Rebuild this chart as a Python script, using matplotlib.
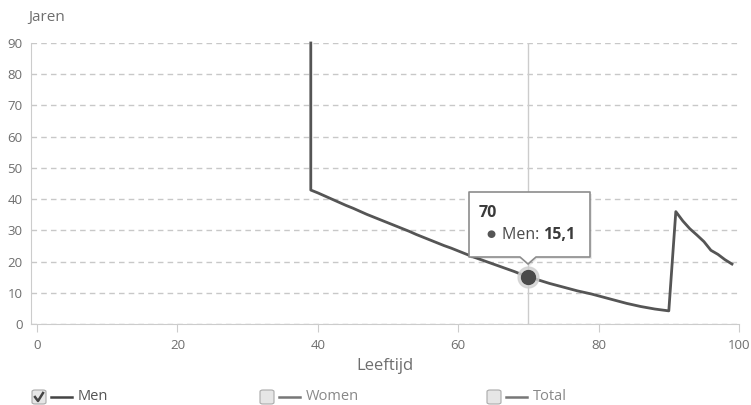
import matplotlib.pyplot as plt
from matplotlib.patches import Polygon, FancyBboxPatch
from matplotlib.lines import Line2D

W, H = 751, 405

# remaining life expectancy, men (Jaren) per age (Leeftijd)
ages = [39, 39, 40, 41, 42, 43, 44, 45, 46, 47, 48, 49, 50, 51, 52, 53, 54,
        55, 56, 57, 58, 59, 60, 61, 62, 63, 64, 65, 66, 67, 68, 69, 70, 71,
        72, 73, 74, 75, 76, 77, 78, 79, 80, 81, 82, 83, 84, 85, 86, 87, 88,
        89, 90, 91, 92, 93, 94, 95, 96, 97, 98, 99]
men = [90.0, 42.9, 42.0, 41.0, 40.0, 39.0, 38.0, 37.1, 36.1, 35.1, 34.2,
       33.3, 32.4, 31.5, 30.6, 29.7, 28.7, 27.8, 26.9, 26.0, 25.1, 24.3, 23.4,
       22.5, 21.6, 20.8, 20.0, 19.2, 18.4, 17.6, 16.8, 15.9, 15.1, 14.4, 13.7,
       13.0, 12.4, 11.8, 11.2, 10.6, 10.1, 9.6, 9.0, 8.4, 7.8, 7.2, 6.6, 6.1,
       5.6, 5.2, 4.8, 4.5, 4.2, 36.0, 33.0, 30.5, 28.5, 26.4, 23.6, 22.3,
       20.6, 19.2]
xticks = [0, 20, 40, 60, 80, 100]
yticks = [0, 10, 20, 30, 40, 50, 60, 70, 80, 90]
series_names = ["Men", "Women", "Total"]
hover_age = 70

LINE = "#555555"
GRID = "#c8c8c8"
TXT = "#6e6e6e"


def fx(x):
    return x / W


def fy(y):
    return 1 - y / H


fig = plt.figure(figsize=(W / 100, H / 100), dpi=100)
plt.rcParams["font.family"] = ["Open Sans", "DejaVu Sans"]

ax = fig.add_axes([fx(31), fy(324), fx(739) - fx(31), fy(43) - fy(324)])
ax.set_xlim(-0.855, 100)
ax.set_ylim(0, 90)

ax.plot(ages, men, color=LINE, lw=2, clip_on=False, zorder=3)

# crosshair + hovered point
hv = men[ages.index(hover_age, 2)]
ax.axvline(hover_age, color="#cccccc", lw=1, zorder=2)
ax.plot([hover_age], [hv], "o", ms=15, color="#d0d0d0", alpha=0.8, zorder=4, clip_on=False)
ax.plot([hover_age], [hv], "o", ms=10, color="#4a4a4a", zorder=5, clip_on=False)

ax.set_xticks(xticks)
ax.set_yticks(yticks)
ax.grid(axis="y", color=GRID, lw=1, ls=(0, (4, 3)))
for s in ["top", "right"]:
    ax.spines[s].set_visible(False)
for s in ["left", "bottom"]:
    ax.spines[s].set_color("#cccccc")
ax.tick_params(axis="x", length=6, color="#cccccc", labelsize=9.5, labelcolor=TXT, pad=5)
ax.tick_params(axis="y", length=0, labelsize=9.5, labelcolor=TXT, pad=6)
ax.set_xlabel("Leeftijd", fontsize=12, color=TXT, labelpad=4)

fig.text(fx(28), fy(17), "Jaren", fontsize=11, color=TXT, va="center", ha="left")

# tooltip
bx0, bx1, by0, by1 = 469, 590, 192, 257
tip_x, tip_y = 528, 264
shadow = Polygon([(fx(bx0 + 2), fy(by0 + 2)), (fx(bx1 + 2), fy(by0 + 2)),
                  (fx(bx1 + 2), fy(by1 + 2)), (fx(tip_x + 9), fy(by1 + 2)),
                  (fx(tip_x + 2), fy(tip_y + 2)), (fx(tip_x - 6), fy(by1 + 2)),
                  (fx(bx0 + 2), fy(by1 + 2))],
                 closed=True, transform=fig.transFigure, fc="#000000", alpha=0.08,
                 ec="none", zorder=9)
box = Polygon([(fx(bx0), fy(by0)), (fx(bx1), fy(by0)), (fx(bx1), fy(by1)),
               (fx(tip_x + 8), fy(by1)), (fx(tip_x), fy(tip_y)),
               (fx(tip_x - 8), fy(by1)), (fx(bx0), fy(by1))],
              closed=True, transform=fig.transFigure, fc="white", ec="#8c8c8c",
              lw=1.2, joinstyle="round", zorder=10)
fig.add_artist(shadow)
fig.add_artist(box)
fig.text(fx(479), fy(213), str(hover_age), fontsize=11.5, fontweight="bold",
         color="#3a3a3a", va="center", ha="left", zorder=11)
fig.text(fx(486), fy(235), "\u25cf", fontsize=7.5, color="#555555",
         va="center", ha="left", zorder=11)
t1 = fig.text(fx(502), fy(235), "Men: ", fontsize=11.5, color="#4a4a4a",
              va="center", ha="left", zorder=11)
r = fig.canvas.get_renderer()
ext = t1.get_window_extent(r)
fig.text(ext.x1 / W, fy(235), f"{hv:.1f}".replace(".", ","), fontsize=11.5,
         fontweight="bold", color="#3a3a3a", va="center", ha="left", zorder=11)

# legend with checkboxes
leg_x = [32, 260, 487]
leg_y = 397
for i, (name, x0) in enumerate(zip(series_names, leg_x)):
    cb = FancyBboxPatch((fx(x0), fy(leg_y + 7)), fx(14), 14 / H,
                        boxstyle="round,pad=0,rounding_size=0.004",
                        transform=fig.transFigure, fc="#e6e6e6", ec="#aaaaaa", lw=0.8)
    fig.add_artist(cb)
    if i == 0:
        fig.add_artist(Line2D([fx(x0 + 3), fx(x0 + 6), fx(x0 + 11)],
                              [fy(leg_y), fy(leg_y + 4), fy(leg_y - 4)],
                              transform=fig.transFigure, color="#444444", lw=1.8))
    fig.add_artist(Line2D([fx(x0 + 19), fx(x0 + 40)], [fy(leg_y), fy(leg_y)],
                          transform=fig.transFigure,
                          color="#444444" if i == 0 else "#777777", lw=1.8))
    fig.text(fx(x0 + 46), fy(leg_y), name, fontsize=10.5,
             color="#555555" if i == 0 else "#888888", va="center", ha="left")

fig.savefig("out.png", dpi=100)
